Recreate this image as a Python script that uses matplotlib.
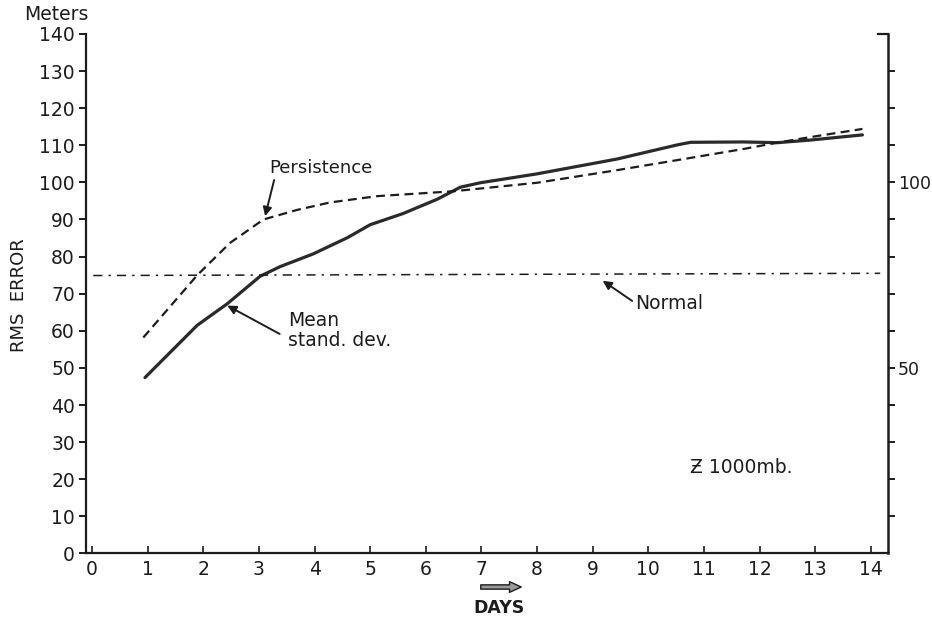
import matplotlib
matplotlib.use("Agg")
import matplotlib.pyplot as plt

# RMS error (meters) of 1000 mb height vs forecast range (days)
days_persist = [0.92, 1.89, 2.48, 3.08, 3.69, 4.28, 5.13, 6.49, 8.0, 9.44,
                10.52, 11.71, 12.32, 12.91, 13.85]
rms_persist = [58.2, 75.0, 83.7, 90.0, 92.6, 94.6, 96.3, 97.6, 99.9, 103.3,
               106.0, 109.0, 110.7, 112.2, 114.4]

days_mean = [0.95, 1.89, 2.43, 3.02, 3.38, 3.97, 4.59, 5.0, 5.59, 6.21,
             6.62, 6.98, 8.0, 9.44, 10.52, 10.76, 11.71, 12.32, 12.91, 13.85]
rms_mean = [47.4, 61.5, 67.3, 74.7, 77.3, 80.7, 85.1, 88.6, 91.6, 95.5,
            98.7, 99.9, 102.3, 106.3, 110.1, 110.8, 110.9, 110.7, 111.4, 112.8]

days_normal = [0.02, 14.17]
rms_normal = [74.9, 75.5]

x_ticks = list(range(0, 15))
y_ticks_left = list(range(0, 141, 10))
y_ticks_right = list(range(10, 131, 10))
right_labeled = {50: "50", 100: "100"}

INK = "#1c1c1c"
plt.rcParams["font.family"] = ["DejaVu Sans"]

fig = plt.figure(figsize=(9.32, 6.23), dpi=100)
ax = fig.add_axes([0.0923, 0.1116, 0.8605, 0.8339])
ax.set_xlim(-0.11, 14.31)
ax.set_ylim(0, 140)

# curves
ax.plot(days_mean, rms_mean, color="#2a2a2a", lw=2.3, solid_capstyle="round",
        solid_joinstyle="round")
ax.plot(days_persist, rms_persist, color=INK, lw=1.6, linestyle=(0, (4, 2.4)))
ax.plot(days_normal, rms_normal, color=INK, lw=1.1, linestyle=(0, (6, 4, 1.5, 4)))

# axes styling
for side in ("top", "right"):
    ax.spines[side].set_visible(False)
for side in ("left", "bottom"):
    ax.spines[side].set_linewidth(1.6)
    ax.spines[side].set_color(INK)
ax.set_xticks(x_ticks)
ax.set_yticks(y_ticks_left)
ax.tick_params(axis="y", direction="out", length=5, width=1.4, colors=INK,
               labelsize=13.5, pad=3)
ax.tick_params(axis="x", direction="in", length=5, width=1.2, colors=INK,
               labelsize=13.5, pad=5)

tw = ax.twinx()
tw.set_ylim(0, 140)
for side in ("top", "left", "bottom"):
    tw.spines[side].set_visible(False)
tw.spines["right"].set_linewidth(1.8)
tw.spines["right"].set_color(INK)
tw.set_yticks(y_ticks_right)
tw.set_yticklabels([right_labeled.get(v, "") for v in y_ticks_right])
tw.tick_params(axis="y", direction="out", length=5, width=1.4, colors=INK,
               labelsize=12.5, pad=2)
# small cap at the top of the right-hand scale
tw.plot([0.988, 1.0], [1.0, 1.0], transform=tw.transAxes, color=INK, lw=1.6,
        clip_on=False)

# labels on the curves
arrow = dict(arrowstyle="-|>", color=INK, lw=1.4, mutation_scale=13,
             shrinkA=0, shrinkB=0)
ax.annotate("Persistence", xy=(3.11, 90.9), xytext=(4.12, 103.8),
            ha="center", va="center", fontsize=13, color=INK,
            arrowprops=dict(arrow, relpos=(0.05, 0.0)))
ax.annotate("Mean\nstand. dev.", xy=(2.43, 66.8), xytext=(3.52, 60.0),
            ha="left", va="center", fontsize=13.5, color=INK, linespacing=1.05,
            arrowprops=dict(arrow, relpos=(-0.08, 0.42)))
ax.annotate("Normal", xy=(9.18, 73.5), xytext=(9.76, 67.4),
            ha="left", va="center", fontsize=13.5, color=INK,
            arrowprops=dict(arrow, relpos=(-0.03, 0.6)))
ax.text(10.75, 23.3, "Ƶ 1000mb.", ha="left", va="center", fontsize=13.5,
        color=INK)

# axis titles
fig.text(56, 608, "Meters", transform=None, ha="center", va="center",
         fontsize=13.5, color=INK)
fig.text(19, 328, "RMS  ERROR", transform=None, ha="center", va="center",
         rotation=90, fontsize=13, color=INK)
fig.text(499, 15, "DAYS", transform=None, ha="center", va="center",
         fontsize=12.5, fontweight="bold", color=INK)
fig.patches.append(matplotlib.patches.FancyArrowPatch(
    (478, 36), (524, 36), transform=None,
    arrowstyle="simple,head_width=0.55,head_length=0.6,tail_width=0.22",
    mutation_scale=14, facecolor="#9a9a9a", edgecolor=INK, lw=1.0))

fig.savefig("out.png", dpi=100, facecolor="white")
